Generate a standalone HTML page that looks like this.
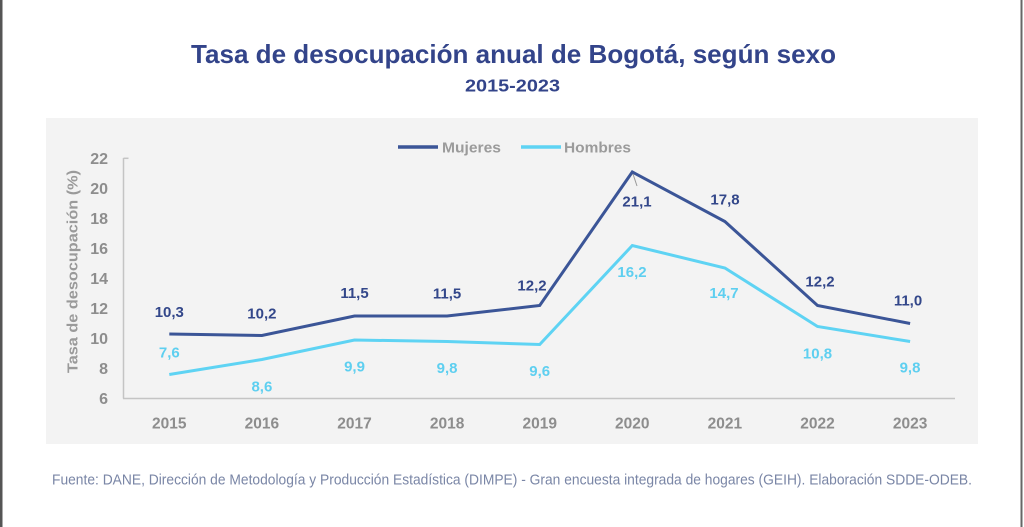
<!DOCTYPE html>
<html>
<head>
<meta charset="utf-8">
<style>
  html,body{margin:0;padding:0;background:#fff;}
  body{width:1024px;height:527px;overflow:hidden;}
  svg{display:block;}
  text{font-family:"Liberation Sans", sans-serif;}
</style>
</head>
<body>
<svg width="1024" height="527" viewBox="0 0 1024 527" xmlns="http://www.w3.org/2000/svg">
  <rect x="0" y="0" width="1024" height="527" fill="#ffffff"/>
  <!-- outer side borders -->
  <rect x="0" y="0" width="2.5" height="527" fill="#555555"/>
  <rect x="1020.5" y="0" width="2" height="527" fill="#666666"/>

  <!-- title -->
  <text x="191" y="63" font-size="26" font-weight="bold" fill="#33448a" textLength="645" lengthAdjust="spacingAndGlyphs">Tasa de desocupación anual de Bogotá, según sexo</text>
  <text x="465" y="91.5" font-size="17.5" font-weight="bold" fill="#33448a" textLength="95" lengthAdjust="spacingAndGlyphs">2015-2023</text>

  <!-- panel -->
  <rect x="46" y="118" width="932" height="326" fill="#f3f3f3"/>

  <!-- axes -->
  <line x1="123.5" y1="158" x2="123.5" y2="398.5" stroke="#c4c4c4" stroke-width="1.5"/>
  <line x1="123.5" y1="158.3" x2="128.5" y2="158.3" stroke="#c4c4c4" stroke-width="1.5"/>
  <line x1="123" y1="398.5" x2="955" y2="398.5" stroke="#c4c4c4" stroke-width="1.5"/>

  <!-- y tick labels -->
  <g font-size="16" font-weight="bold" fill="#8d8d8d" text-anchor="end">
    <text x="108" y="164">22</text>
    <text x="108" y="194">20</text>
    <text x="108" y="224">18</text>
    <text x="108" y="254">16</text>
    <text x="108" y="284">14</text>
    <text x="108" y="314">12</text>
    <text x="108" y="344">10</text>
    <text x="108" y="374">8</text>
    <text x="108" y="404">6</text>
  </g>

  <!-- y axis title -->
  <text transform="translate(77.5,373) rotate(-90)" x="0" y="0" font-size="15" font-weight="bold" fill="#9a9a9a" textLength="203" lengthAdjust="spacingAndGlyphs">Tasa de desocupación (%)</text>

  <!-- x labels -->
  <g font-size="15.5" font-weight="bold" fill="#8d8d8d" text-anchor="middle">
    <text x="169.3" y="428.5">2015</text>
    <text x="261.9" y="428.5">2016</text>
    <text x="354.5" y="428.5">2017</text>
    <text x="447.1" y="428.5">2018</text>
    <text x="539.7" y="428.5">2019</text>
    <text x="632.3" y="428.5">2020</text>
    <text x="724.9" y="428.5">2021</text>
    <text x="817.5" y="428.5">2022</text>
    <text x="910.1" y="428.5">2023</text>
  </g>

  <!-- legend -->
  <line x1="398" y1="147" x2="438" y2="147" stroke="#3b5597" stroke-width="3.5"/>
  <text x="442" y="152.5" font-size="15" font-weight="bold" fill="#9b9b9b" textLength="59" lengthAdjust="spacingAndGlyphs">Mujeres</text>
  <line x1="521" y1="147" x2="561" y2="147" stroke="#5ed3f3" stroke-width="3.5"/>
  <text x="564" y="152.5" font-size="15" font-weight="bold" fill="#9b9b9b" textLength="67" lengthAdjust="spacingAndGlyphs">Hombres</text>

  <!-- series -->
  <polyline fill="none" stroke="#5ed3f3" stroke-width="3" stroke-linejoin="miter"
    points="169.3,374.5 261.9,359.5 354.5,340 447.1,341.5 539.7,344.5 632.3,245.5 724.9,268 817.5,326.5 910.1,341.5"/>
  <polyline fill="none" stroke="#3b5597" stroke-width="3" stroke-linejoin="miter"
    points="169.3,334 261.9,335.5 354.5,316 447.1,316 539.7,305.5 632.3,172 724.9,221.5 817.5,305.5 910.1,323.5"/>

  <!-- leader line -->
  <line x1="633" y1="174" x2="637" y2="186" stroke="#9a9a9a" stroke-width="1"/>

  <!-- Mujeres labels -->
  <g font-size="15" font-weight="bold" fill="#33478a" text-anchor="middle">
    <text x="169.3" y="317">10,3</text>
    <text x="261.9" y="318.5">10,2</text>
    <text x="354.5" y="298">11,5</text>
    <text x="447.1" y="298.5">11,5</text>
    <text x="532" y="290.5">12,2</text>
    <text x="637" y="206.5">21,1</text>
    <text x="725" y="204.5">17,8</text>
    <text x="820" y="286.5">12,2</text>
    <text x="908" y="305.5">11,0</text>
  </g>

  <!-- Hombres labels -->
  <g font-size="15" font-weight="bold" fill="#5ecff0" text-anchor="middle">
    <text x="169.3" y="357.5">7,6</text>
    <text x="261.9" y="391.5">8,6</text>
    <text x="354.5" y="371.5">9,9</text>
    <text x="447.1" y="373">9,8</text>
    <text x="539.7" y="376">9,6</text>
    <text x="632" y="277">16,2</text>
    <text x="724" y="298">14,7</text>
    <text x="817.5" y="358.5">10,8</text>
    <text x="910" y="372.5">9,8</text>
  </g>

  <!-- footer -->
  <text x="52" y="484.5" font-size="14.5" fill="#7a86a6" textLength="920" lengthAdjust="spacingAndGlyphs">Fuente: DANE, Dirección de Metodología y Producción Estadística (DIMPE) - Gran encuesta integrada de hogares (GEIH). Elaboración SDDE-ODEB.</text>
</svg>
</body>
</html>
